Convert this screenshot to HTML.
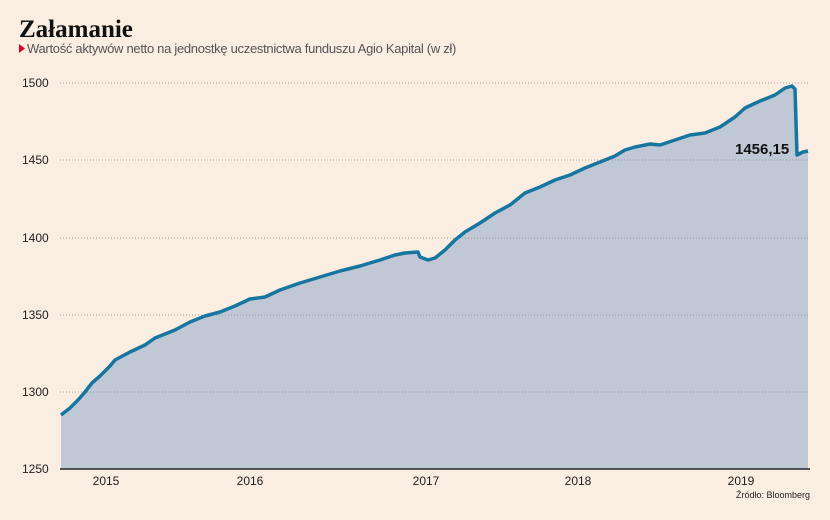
<!DOCTYPE html>
<html><head><meta charset="utf-8"><style>
body{margin:0;background:#faede1;}
svg{display:block;font-family:"Liberation Sans",sans-serif;}
</style></head><body>
<svg width="830" height="520" viewBox="0 0 830 520">
<rect width="830" height="520" fill="#faede1"/>
<text x="19" y="37" font-family="Liberation Serif,serif" font-weight="bold" font-size="25" fill="#111">Załamanie</text>
<polygon points="19,44 25,48.5 19,53" fill="#e3001b"/>
<text x="27" y="53" font-size="13" fill="#555" letter-spacing="-0.3">Wartość aktywów netto na jednostkę uczestnictwa funduszu Agio Kapital (w zł)</text>
<polygon fill="#c0c8d6" points="61,469 61,415 70,408 78,400 85,392 92,383 100,376 110,366 115,360 130,352 145,345 155,338 175,330 190,322 205,316 220,312 235,306 250,299 265,297 280,290 300,283 320,277 340,271 360,266 380,260 395,255 405,253 418,252 420,257 428,260 435,258 445,250 455,240 465,232 480,223 495,213 510,205 525,193 540,187 555,180 570,175 585,168 600,162 615,156 625,150 635,147 650,144 660,145 675,140 690,135 705,133 720,127 735,117 745,108 760,101 775,95 785,88 792,86 795,89 797,155 803,152 808,151 808,469"/>
<g stroke="#888" stroke-width="0.8" stroke-dasharray="1,2">
<line x1="60" y1="83" x2="810" y2="83"/><line x1="60" y1="160" x2="810" y2="160"/><line x1="60" y1="238" x2="810" y2="238"/><line x1="60" y1="315" x2="810" y2="315"/><line x1="60" y1="392" x2="810" y2="392"/>
</g>
<line x1="60" y1="469" x2="810" y2="469" stroke="#222" stroke-width="1.5"/>
<polyline fill="none" stroke="#17769f" stroke-width="3.5" stroke-linejoin="round" points="61,415 70,408 78,400 85,392 92,383 100,376 110,366 115,360 130,352 145,345 155,338 175,330 190,322 205,316 220,312 235,306 250,299 265,297 280,290 300,283 320,277 340,271 360,266 380,260 395,255 405,253 418,252 420,257 428,260 435,258 445,250 455,240 465,232 480,223 495,213 510,205 525,193 540,187 555,180 570,175 585,168 600,162 615,156 625,150 635,147 650,144 660,145 675,140 690,135 705,133 720,127 735,117 745,108 760,101 775,95 785,88 792,86 795,89 797,155 803,152 808,151"/>
<g font-size="12" fill="#222">
<text x="22" y="87">1500</text><text x="22" y="164">1450</text><text x="22" y="242">1400</text><text x="22" y="319">1350</text><text x="22" y="396">1300</text><text x="22" y="473">1250</text>
<text x="106" y="485" text-anchor="middle">2015</text><text x="250" y="485" text-anchor="middle">2016</text><text x="426" y="485" text-anchor="middle">2017</text><text x="578" y="485" text-anchor="middle">2018</text><text x="741" y="485" text-anchor="middle">2019</text>
</g>
<text x="735" y="154" font-size="15" font-weight="bold" fill="#111">1456,15</text>
<text x="810" y="498" font-size="9" fill="#222" text-anchor="end">Źródło: Bloomberg</text>
</svg>
</body></html>
